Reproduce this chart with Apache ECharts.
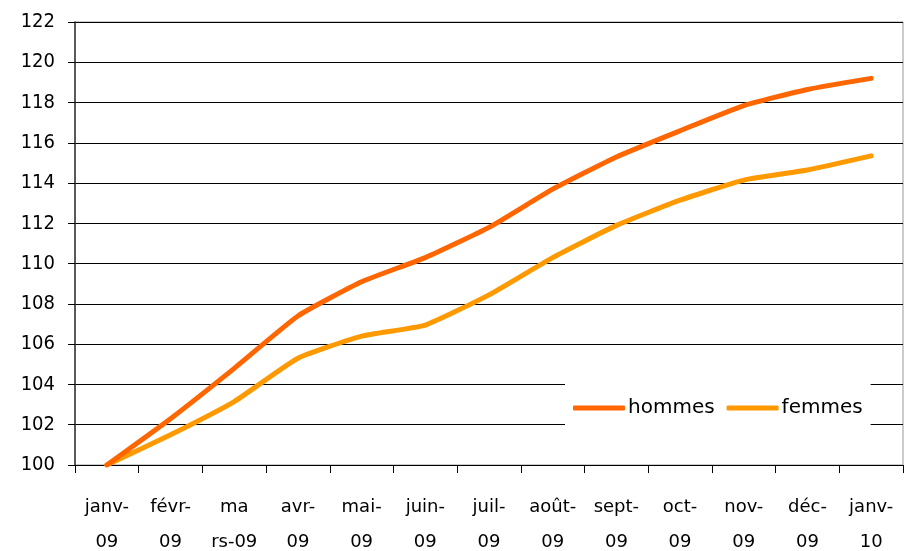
<!DOCTYPE html>
<html>
<head>
<meta charset="utf-8">
<script src="https://cdn.jsdelivr.net/npm/echarts@6/dist/echarts.min.js"></script>
<style>
  html, body { margin: 0; padding: 0; background: #fff; }
  #chart { width: 905px; height: 551px; }
</style>
</head>
<body>
<div id="chart"></div>
<script>
// catégories (mois)
const months = [
  'janv-\n09', 'févr-\n09', 'ma\nrs-09', 'avr-\n09', 'mai-\n09', 'juin-\n09', 'juil-\n09',
  'août-\n09', 'sept-\n09', 'oct-\n09', 'nov-\n09', 'déc-\n09', 'janv-\n10'
];
// indices base 100
const hommes = [100, 102.3, 104.8, 107.4, 109.1, 110.3, 111.8, 113.7, 115.3, 116.6, 117.85, 118.65, 119.2];
const femmes = [100, 101.5, 103.15, 105.3, 106.4, 106.95, 108.45, 110.3, 111.9, 113.15, 114.15, 114.65, 115.35];

const FONT = "'DejaVu Sans Condensed', 'DejaVu Sans', sans-serif";
const FONT_WIDE = "'DejaVu Sans', sans-serif";

const chart = echarts.init(document.getElementById('chart'));
chart.setOption({
  animation: false,
  backgroundColor: '#fff',
  textStyle: { fontFamily: FONT, color: '#000' },
  grid: {
    left: 75,
    right: 2,
    top: 22,
    bottom: 86,
    outerBoundsMode: 'none',
    containLabel: false,
    show: true,
    borderColor: '#999',
    borderWidth: 1
  },
  legend: {
    left: 565,
    top: 380,
    backgroundColor: '#fff',
    padding: [18, 8, 18, 8],
    itemGap: 12,
    itemWidth: 52,
    itemHeight: 5,
    icon: 'roundRect',
    textStyle: { fontSize: 20, color: '#000', fontFamily: FONT_WIDE, padding: [0, 0, 0, -2] },
    data: ['hommes', 'femmes']
  },
  xAxis: {
    type: 'category',
    data: months,
    boundaryGap: true,
    axisLine: { lineStyle: { color: '#000', width: 1 } },
    axisTick: { show: true, length: 8, lineStyle: { color: '#000' } },
    axisLabel: {
      interval: 0,
      margin: 25,
      fontSize: 18,
      lineHeight: 35,
      color: '#000',
      fontFamily: FONT_WIDE
    },
    splitLine: { show: false }
  },
  yAxis: {
    type: 'value',
    min: 100,
    max: 122,
    interval: 2,
    axisLine: { show: true, lineStyle: { color: '#333', width: 1.5 } },
    axisTick: { show: true, length: 7, lineStyle: { color: '#000' } },
    axisLabel: { margin: 20, fontSize: 20, color: '#000', fontFamily: FONT },
    splitLine: { show: true, lineStyle: { color: '#000', width: 1 } }
  },
  series: [
    {
      name: 'hommes',
      type: 'line',
      data: hommes,
      showSymbol: false,
      symbol: 'none',
      smooth: 0.15,
      color: '#FF6600',
      lineStyle: { width: 5, color: '#FF6600', cap: 'round', join: 'round' },
      z: 3
    },
    {
      name: 'femmes',
      type: 'line',
      data: femmes,
      showSymbol: false,
      symbol: 'none',
      smooth: 0.15,
      color: '#FF9900',
      lineStyle: { width: 5, color: '#FF9900', cap: 'round', join: 'round' },
      z: 2
    }
  ]
});
</script>
</body>
</html>
